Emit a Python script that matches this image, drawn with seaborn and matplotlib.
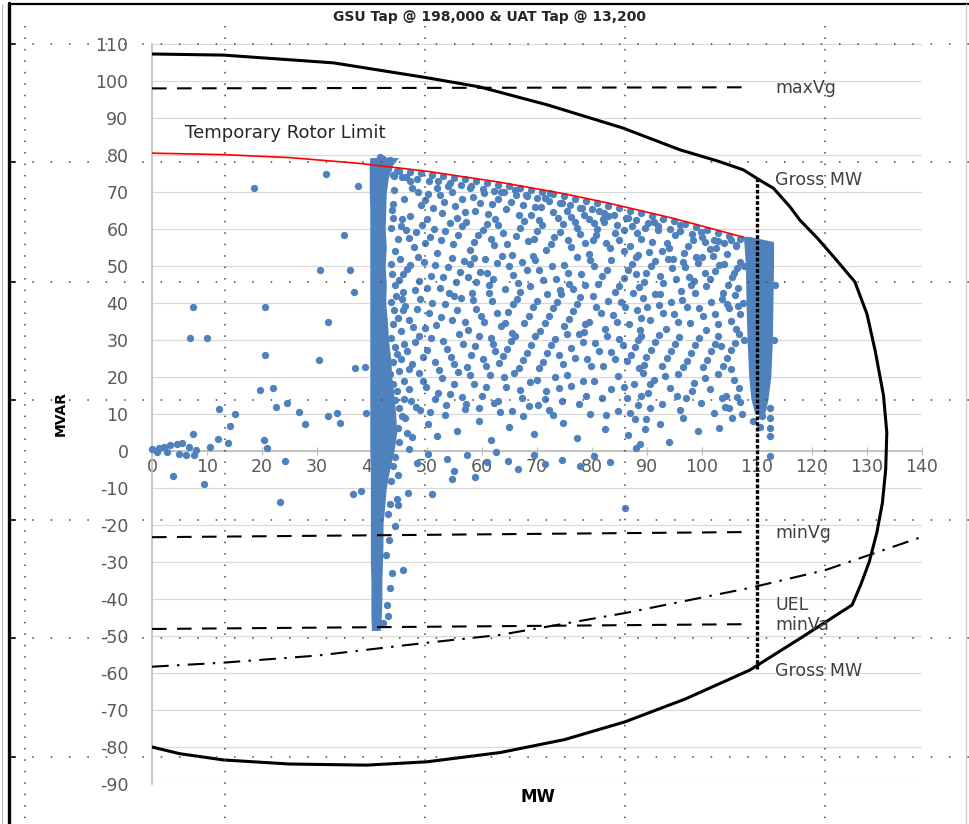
import matplotlib
matplotlib.use("Agg")
import matplotlib.pyplot as plt
import seaborn as sns
import numpy as np
import pandas as pd

# ---------------- data (MW, MVAR) ----------------
x_ticks = [0, 10, 20, 30, 40, 50, 60, 70, 80, 90, 100, 110, 120, 130, 140]
y_ticks = [110, 100, 90, 80, 70, 60, 50, 40, 30, 20, 10, 0, -10, -20, -30, -40, -50, -60, -70, -80, -90]

# generator capability curve
cap_mw = [0, 13, 33, 49.5, 59.6, 72, 85.6, 96, 103, 107.5, 110.5, 113, 116, 117.8, 121, 124.5,
          127.8, 130, 131.5, 133, 133.6, 133.4, 132.8, 131.8, 130.4, 128.9, 127.3, 118, 108.7, 97,
          86, 75, 63.3, 50, 39, 25, 13, 5, 0]
cap_mvar = [107.3, 107, 104.9, 101, 98.4, 93.5, 87.3, 81.4, 78.3, 76, 73.2, 71, 66, 62.4, 57.5, 51.5,
            45.7, 37, 27, 15, 5, -5, -14, -22, -30, -36, -41.6, -50.5, -59.2, -67,
            -73.2, -78, -81.5, -84, -84.9, -84.6, -83.5, -81.8, -80]

# temporary rotor limit (red)
rotor_mw = [0, 13, 25, 38, 50, 63, 75, 83, 95, 107.5]
rotor_mvar = [80.5, 80.1, 79.3, 77.7, 75.6, 72.7, 69.5, 67.0, 62.8, 57.8]

# voltage limits and UEL
maxvg_mw, maxvg_mvar = [0, 108.7], [98.0, 98.3]
minvg_mw, minvg_mvar = [0, 108.7], [-23.3, -21.9]
minva_mw, minva_mvar = [0, 108.7], [-48.1, -46.8]
uel_mw = [0, 13, 30, 49.5, 63.3, 86, 108.7, 122.4, 140]
uel_mvar = [-58.3, -57.2, -55.3, -51.9, -49.7, -43.8, -37.0, -32.2, -23.2]
gross_mw, gross_mvar = [110, 110], [73.8, -58.8]

# densely packed operating points (solid bands of markers)
band40_mvar = [79.3, 77, 74, 70, 65, 60, 55, 50, 45, 40, 35, 30, 25, 20, 15, 10, 5, 0,
               -5, -10, -15, -20, -25, -30, -35, -40, -45, -48.5]
band40_left = [39.6, 39.5, 39.5, 39.5, 39.6, 39.6, 39.6, 39.6, 39.6, 39.6, 39.6, 39.6, 39.6, 39.6,
               39.6, 39.6, 39.6, 39.6, 39.7, 39.7, 39.7, 39.7, 39.7, 39.7, 39.8, 39.8, 39.8, 39.9]
band40_right = [44.8, 43.6, 43.0, 42.6, 42.5, 42.4, 42.6, 42.4, 42.6, 42.5, 42.8, 43.0, 43.4, 43.6,
                44.0, 44.3, 44.5, 44.0, 43.2, 42.6, 42.3, 42.0, 42.0, 41.9, 41.8, 41.8, 41.7, 41.5]
band110_mvar = [58.0, 56.6, 50, 40, 30, 20, 14, 10]
band110_left = [107.4, 107.6, 107.9, 108.0, 108.2, 108.5, 108.9, 109.6]
band110_right = [108.6, 113.0, 113.0, 112.9, 112.8, 112.5, 112.0, 111.4]

# individual operating points
sparse_left = [(0, 0.5), (1.2, 0.8), (2.2, 1.2), (3.3, 1.6), (4.5, 2.0), (5.5, 2.2), (6.8, 1.0),
               (8.0, 0.4), (2.8, -0.4), (5.0, -0.9), (6.2, -1.2), (7.6, -1.0), (1.0, -0.2),
               (3.9, -6.7), (7.5, 4.6), (10.5, 1.0), (9.5, -8.9), (12.2, 11.3), (12.0, 3.2),
               (14.2, 6.8), (15.1, 10.0), (13.9, 2.2), (20.4, 3.0), (20.9, 0.8), (22.0, 17.0),
               (22.5, 11.9), (24.6, 13.0), (24.2, -2.6), (23.3, -13.8), (26.8, 10.5), (27.8, 7.3),
               (32.0, 9.4), (33.6, 10.3), (34.2, 7.6), (36.5, -11.6), (39.0, 10.3), (7.5, 39.0),
               (7.0, 30.5), (10.0, 30.5), (20.5, 39.0), (18.5, 71.0), (20.5, 26.0), (30.5, 49.0),
               (30.3, 24.6), (31.6, 75.0), (32.0, 35.0), (35.0, 58.5), (36.0, 49.0), (36.7, 43.0),
               (37.5, 71.6), (37.0, 22.5), (38.8, 22.8), (38.0, -10.8), (19.6, 16.5)]

edge_top = [(43, 76.2), (45, 75.8), (47, 75.5), (49, 75.1), (51, 74.7), (53, 74.3), (55, 73.9),
            (57, 73.4), (59, 73.0), (61, 72.5), (63, 72.0), (65, 71.5), (67, 71.0), (69, 70.5),
            (71, 69.9), (73, 69.4), (75, 68.8), (77, 68.2), (79, 67.6), (81, 66.9), (83, 66.3),
            (85, 65.6), (87, 65.0), (89, 64.3), (91, 63.6), (93, 62.8), (95, 62.1), (97, 61.4),
            (99, 60.6), (101, 59.8), (103, 59.0), (105, 58.2), (107, 57.4),
            (44, 74.4), (46.2, 74.0), (48.1, 73.6), (50.3, 73.0), (52.0, 72.9), (54.2, 72.3),
            (56.1, 71.8), (58.0, 71.5), (60.2, 70.9), (62.1, 70.3), (64.0, 70.0), (66.2, 69.2),
            (68.1, 68.9), (70.0, 68.4), (72.2, 67.6), (74.1, 67.1), (76.0, 66.6), (78.2, 65.8),
            (80.0, 65.3), (82.1, 64.4), (84.0, 63.9), (86.2, 63.1), (88.0, 62.4), (90.1, 61.6),
            (92.0, 60.9), (94.2, 60.1), (96.0, 59.4), (98.1, 58.6), (100.0, 57.9), (102.2, 57.0),
            (104.0, 56.3), (106.1, 55.3), (41.5, 79.5), (43.2, 78.6), (42.0, 79.0)]

cloud_62_72 = [(44.0, 70.6), (45.8, 68.2), (47.3, 71.0), (48.9, 66.5), (50.2, 69.4), (51.8, 71.2),
               (53.1, 67.3), (54.6, 70.0), (56.3, 68.1), (57.9, 71.0), (58.8, 64.9), (60.4, 69.6),
               (61.9, 66.8), (63.5, 70.1), (65.2, 67.4), (66.8, 63.9), (68.0, 69.2), (69.7, 66.0),
               (71.5, 68.3), (73.0, 64.6), (74.6, 66.9), (76.1, 63.2), (77.9, 65.8), (79.5, 62.7),
               (81.2, 64.9), (83.0, 63.4), (47.0, 63.5), (50.0, 62.6), (52.7, 64.4), (55.4, 63.0),
               (62.4, 62.8), (70.3, 62.4), (43.6, 65.2), (45.4, 62.8), (43.8, 74.5), (44.6, 75.8),
               (45.5, 74.0), (43.9, 66.8), (46.9, 72.9), (48.4, 69.9), (49.7, 67.8), (51.1, 65.6),
               (52.4, 69.1), (53.8, 71.6), (55.1, 66.2), (56.9, 64.6), (58.3, 68.7), (59.6, 66.9),
               (61.1, 64.0), (62.9, 68.2), (64.3, 65.3), (66.0, 70.6), (67.5, 66.6), (69.0, 63.7),
               (70.8, 65.9), (72.4, 69.8), (73.9, 62.9), (75.5, 64.8), (77.0, 61.9), (78.6, 63.9),
               (80.3, 61.5), (82.0, 62.6), (84.5, 61.0), (85.9, 59.6), (88.2, 59.0), (89.7, 60.3)]

cloud_52_62 = [(43.5, 60.4), (44.8, 57.3), (46.2, 59.8), (47.6, 55.1), (49.1, 61.0), (50.5, 57.9),
               (51.9, 53.6), (53.3, 59.4), (54.8, 56.0), (56.4, 60.8), (57.8, 54.2), (59.3, 58.3),
               (60.9, 61.4), (62.2, 55.6), (63.8, 58.9), (65.5, 53.1), (66.9, 60.2), (68.4, 56.7),
               (70.0, 59.5), (71.6, 54.4), (73.1, 57.8), (74.8, 61.3), (76.2, 55.2), (77.8, 58.6),
               (79.4, 53.3), (81.0, 60.0), (82.5, 56.3), (84.1, 58.9), (85.8, 54.0), (87.3, 60.7),
               (88.9, 57.2), (90.4, 53.8), (92.0, 59.6), (93.6, 56.1), (95.1, 58.4), (96.8, 53.5),
               (98.3, 57.0), (99.9, 59.1), (101.4, 54.6), (103.0, 56.8), (104.6, 53.2), (106.2, 55.7),
               (48.3, 52.4), (58.5, 52.1), (69.2, 52.6), (80.1, 56.9), (91.2, 62.0), (86.5, 63.0),
               (96.0, 61.0), (44.2, 54.0), (102.0, 52.8), (94.0, 54.8), (43.9, 63.0), (45.2, 60.9),
               (46.7, 57.6), (48.0, 59.3), (49.6, 56.2), (51.2, 59.9), (52.6, 56.9), (54.1, 61.6),
               (55.7, 58.4), (57.1, 61.9), (58.6, 56.6), (60.1, 59.8), (61.6, 57.4), (63.0, 61.2),
               (64.6, 56.0), (66.2, 58.2), (67.6, 62.1), (69.5, 57.3), (71.0, 61.2), (72.6, 56.0),
               (74.1, 59.2), (75.6, 57.0), (77.3, 60.3), (78.8, 56.1), (80.7, 58.3), (82.2, 61.8),
               (83.3, 54.9), (85.0, 57.1), (86.9, 55.5), (88.4, 53.1), (91.0, 56.4), (92.8, 54.1),
               (94.8, 52.0), (97.5, 55.4), (99.0, 52.5), (100.6, 56.5), (102.6, 55.0), (105.2, 57.1)]

cloud_42_52 = [(43.4, 50.6), (44.9, 46.3), (46.3, 49.1), (47.9, 43.5), (49.4, 51.0), (50.8, 47.2),
               (52.3, 44.1), (53.9, 49.8), (55.2, 45.6), (56.8, 51.4), (58.1, 42.8), (59.7, 48.3),
               (61.2, 45.0), (62.8, 50.7), (64.1, 43.9), (65.7, 47.6), (67.3, 51.2), (68.8, 44.7),
               (70.3, 48.9), (71.9, 42.4), (73.4, 46.5), (74.9, 50.3), (76.5, 43.8), (78.0, 47.9),
               (79.6, 51.6), (81.1, 45.1), (82.7, 49.0), (84.2, 42.9), (85.8, 46.8), (87.3, 50.5),
               (88.6, 44.3), (89.9, 48.2), (91.5, 51.3), (93.0, 45.5), (94.6, 49.4), (96.1, 43.2),
               (97.7, 47.0), (99.2, 50.8), (100.8, 44.6), (102.3, 48.6), (103.9, 42.6), (105.4, 46.9),
               (106.9, 51.0), (45.6, 43.0), (60.5, 51.9), (75.8, 45.2), (92.4, 42.5), (57.4, 46.9),
               (88.0, 47.8), (45.1, 51.8), (43.7, 47.9), (104.0, 50.5), (105.8, 48.2), (106.5, 44.0),
               (100.5, 48.0), (98.0, 44.8), (96.5, 51.2), (44.1, 44.8), (45.7, 47.8), (47.0, 50.3),
               (48.5, 46.0), (50.0, 44.0), (51.5, 50.4), (53.0, 47.1), (54.5, 52.1), (56.0, 48.5),
               (57.9, 50.6), (59.0, 45.6), (60.9, 48.2), (62.0, 46.4), (63.6, 52.6), (65.0, 49.9),
               (66.5, 45.5), (68.1, 49.0), (69.6, 51.7), (71.1, 46.3), (72.8, 50.0), (74.2, 43.6),
               (75.7, 48.1), (77.3, 52.4), (78.8, 45.0), (80.4, 50.0), (81.9, 47.3), (83.4, 51.6),
               (85.0, 44.5), (86.6, 49.0), (88.0, 52.3), (89.4, 45.8), (90.7, 50.0), (92.3, 47.4),
               (93.8, 51.8), (95.3, 46.6), (96.9, 49.6), (98.5, 46.0), (100.0, 52.3), (101.5, 46.5),
               (103.1, 50.3), (104.7, 45.0), (106.3, 49.4)]

cloud_32_42 = [(43.5, 40.2), (44.7, 36.0), (46.0, 39.1), (47.4, 33.4), (48.8, 41.0), (50.3, 37.2),
               (51.7, 34.0), (53.2, 39.7), (54.6, 35.5), (56.1, 41.4), (57.5, 32.7), (59.0, 38.3),
               (60.4, 35.0), (61.9, 40.6), (63.4, 33.8), (64.8, 37.5), (66.3, 41.1), (67.7, 34.6),
               (69.2, 38.8), (70.6, 32.3), (72.1, 36.4), (73.6, 40.3), (75.0, 33.7), (76.5, 37.9),
               (77.9, 41.5), (79.4, 35.0), (80.8, 39.0), (82.3, 32.9), (83.8, 36.8), (85.2, 40.4),
               (86.7, 34.2), (88.1, 38.1), (89.2, 41.3), (90.6, 35.4), (92.1, 39.4), (93.5, 33.1),
               (95.0, 37.0), (96.4, 40.8), (97.9, 34.5), (99.4, 38.6), (100.8, 32.6), (102.3, 36.9),
               (103.7, 41.0), (105.2, 35.2), (106.6, 39.2), (45.2, 32.5), (55.0, 42.0), (65.4, 32.0),
               (78.6, 32.2), (88.7, 32.8), (44.4, 41.8), (45.6, 38.0), (43.9, 34.4), (104.9, 38.6),
               (106.1, 33.0), (44.0, 38.2), (45.5, 41.0), (46.8, 35.3), (48.1, 38.4), (49.6, 33.2),
               (51.0, 40.0), (52.5, 36.2), (54.0, 42.6), (55.4, 38.0), (56.9, 34.8), (58.3, 40.7),
               (59.8, 36.4), (61.2, 42.8), (62.7, 37.2), (64.1, 34.6), (65.6, 39.6), (67.0, 43.0),
               (68.5, 36.4), (70.0, 40.6), (71.4, 34.5), (72.9, 38.6), (74.3, 42.4), (75.8, 35.6),
               (77.2, 39.8), (78.7, 34.4), (80.1, 42.0), (81.6, 37.2), (83.0, 40.6), (84.5, 34.9),
               (86.0, 38.8), (87.5, 42.6), (88.9, 36.0), (90.0, 39.0), (91.4, 42.3), (92.9, 37.2),
               (94.3, 40.4), (95.7, 34.9), (97.2, 38.8), (98.7, 42.8), (100.1, 36.6), (101.6, 40.3),
               (103.0, 34.4), (104.5, 39.8), (106.0, 42.1), (107.0, 37.0)]

cloud_22_32 = [(43.4, 30.5), (44.6, 26.3), (45.9, 29.0), (47.2, 23.6), (48.6, 31.2), (50.0, 27.4),
               (51.5, 24.0), (52.9, 29.8), (54.3, 25.5), (55.8, 31.5), (57.2, 22.8), (58.7, 28.3),
               (60.1, 25.0), (61.6, 30.6), (63.1, 23.7), (64.5, 27.5), (66.0, 31.1), (67.4, 24.5),
               (68.9, 28.7), (70.3, 22.3), (71.8, 26.4), (73.3, 30.2), (74.7, 23.6), (76.2, 27.8),
               (77.6, 31.5), (79.1, 25.0), (80.5, 29.1), (82.0, 22.9), (83.5, 26.8), (84.9, 30.4),
               (86.4, 24.2), (87.8, 28.0), (89.0, 31.2), (89.9, 25.3), (91.4, 29.4), (92.8, 23.1),
               (94.3, 27.1), (95.8, 30.9), (97.2, 24.4), (98.7, 28.6), (100.1, 22.6), (101.6, 26.9),
               (103.0, 31.0), (104.5, 25.1), (106.0, 29.2), (88.5, 22.5), (46.8, 22.1), (62.3, 27.0),
               (44.1, 28.0), (45.3, 24.9), (103.4, 28.5), (105.3, 22.2), (43.8, 24.0), (45.0, 21.5),
               (46.4, 27.0), (47.8, 29.4), (49.3, 25.3), (50.7, 30.6), (52.1, 22.0), (53.6, 27.6),
               (55.0, 23.4), (56.5, 28.9), (58.0, 25.9), (59.4, 31.0), (60.8, 22.9), (62.0, 29.0),
               (63.8, 25.6), (65.3, 29.6), (66.7, 22.4), (68.2, 26.6), (69.6, 31.0), (71.1, 24.1),
               (72.5, 28.6), (74.0, 26.0), (75.5, 31.6), (76.9, 25.1), (78.4, 29.4), (79.8, 23.0),
               (81.3, 27.0), (82.7, 31.2), (84.2, 24.9), (85.6, 28.7), (87.1, 26.0), (88.3, 30.0),
               (89.5, 23.3), (90.8, 27.2), (92.2, 31.3), (93.6, 25.2), (95.1, 28.9), (96.5, 22.6),
               (98.0, 26.6), (99.4, 30.6), (100.9, 24.6), (102.3, 28.8), (103.8, 23.0), (105.2, 27.2),
               (106.7, 31.5)]

cloud_12_22 = [(43.3, 20.8), (44.5, 16.2), (45.8, 19.0), (47.1, 13.4), (48.5, 21.2), (49.9, 17.3),
               (51.4, 14.1), (52.8, 19.7), (54.2, 15.4), (55.7, 21.4), (57.1, 12.7), (58.6, 18.2),
               (60.0, 15.0), (61.5, 20.5), (63.0, 13.6), (64.4, 17.4), (65.9, 21.0), (67.3, 14.4),
               (68.8, 18.6), (70.2, 12.4), (71.7, 16.3), (73.2, 20.1), (74.6, 13.5), (76.1, 17.7),
               (79.0, 15.0), (80.4, 19.0), (83.4, 16.7), (84.8, 20.3), (86.3, 14.2), (87.6, 18.0),
               (88.4, 12.3), (89.3, 21.0), (90.1, 15.6), (91.3, 19.3), (94.2, 17.0), (95.7, 20.8),
               (97.1, 14.3), (98.6, 18.5), (101.5, 16.8), (102.9, 20.9), (104.4, 15.0), (105.9, 19.1),
               (107.0, 13.2), (43.8, 18.0), (44.9, 11.5), (45.9, 14.0), (106.8, 17.0), (104.2, 12.0),
               (44.2, 13.8), (45.4, 9.4), (46.7, 16.8), (48.0, 12.0), (49.2, 19.0), (50.6, 10.6),
               (52.0, 15.6), (53.5, 12.4), (55.0, 18.2), (56.4, 14.7), (57.9, 20.6), (59.5, 11.6),
               (60.8, 17.3), (62.2, 13.0), (64.0, 20.0), (65.4, 10.8), (67.0, 16.6), (68.5, 12.2),
               (70.0, 19.2), (71.5, 14.0), (73.0, 9.6), (74.0, 17.0), (75.5, 20.5), (77.6, 12.6),
               (78.3, 18.8), (81.8, 14.4), (82.6, 9.8), (85.8, 17.3), (86.9, 10.4), (88.9, 15.0),
               (89.8, 8.6), (90.6, 18.2), (92.7, 12.8), (93.3, 20.2), (95.4, 14.8), (96.0, 11.0),
               (98.2, 16.2), (99.8, 12.9), (100.6, 19.8), (103.6, 14.3), (105.0, 11.5), (106.3, 14.6)]

cloud_2_12 = [(43.5, 10.6), (44.7, 6.2), (46.0, 9.0), (47.3, 3.8), (48.7, 11.2), (50.2, 7.3),
              (51.8, 4.1), (53.3, 9.7), (55.5, 5.4), (57.0, 11.4), (59.4, 8.2), (61.6, 3.0),
              (63.2, 10.5), (65.0, 6.6), (67.4, 9.4), (69.5, 4.5), (72.1, 11.0), (74.8, 7.7),
              (77.2, 3.6), (79.6, 9.9), (82.3, 6.0), (84.7, 10.8), (86.5, 4.2), (87.9, 8.6),
              (88.8, 2.0), (89.6, 5.9), (90.5, 11.6), (92.4, 7.4), (94.0, 2.4), (96.6, 9.0),
              (99.3, 5.3), (102.2, 10.2), (103.1, 6.2), (105.5, 8.8), (88.0, 0.8), (46.3, 4.8),
              (45.0, 2.5), (107.2, 10.0)]

below_axis = [(44.2, -1.5), (46.8, 0.5), (48.1, -3.2), (50.2, -0.8), (53.6, -2.1), (55.0, -5.5),
              (57.3, -1.2), (58.7, -7.0), (60.9, -3.0), (62.5, -0.2), (64.8, -2.6), (66.6, -4.8),
              (69.4, -1.0), (71.5, -3.4), (74.6, -2.3), (77.9, -4.0), (80.3, -1.4), (83.2, -3.1),
              (86.0, -15.5), (46.5, -11.4), (51.0, -11.7), (54.5, -7.6), (44.5, -13.0), (43.3, -14.3),
              (44.7, -14.6), (44.2, -20.3), (45.7, -32.2), (43.6, -33.0), (43.3, -37.0), (42.7, -41.6),
              (42.0, -46.5), (43.9, -4.0), (44.8, -6.5), (43.5, -8.0), (42.9, -17.0), (43.1, -24.0),
              (42.6, -28.0), (43.0, -44.5)]

right_band_pts = [(112.4, 11.5), (112.3, 8.8), (112.4, 6.2), (112.3, 4.0), (112.4, -1.4),
                  (111.0, 9.5), (110.6, 6.5), (109.2, 8.0), (107.6, 50.0), (107.5, 40.0),
                  (107.7, 30.0), (113.2, 45.0), (113.1, 30.0)]

# ---------------- drawing ----------------
sns.set_theme(style="white")
plt.rcParams['font.family'] = ['DejaVu Sans']
plt.rcParams['axes.unicode_minus'] = False

blue = '#4F81BD'
label_col = '#404040'
tick_col = '#595959'

fig = plt.figure(figsize=(9.7, 8.24), dpi=100)
W, H = 970, 824
ax = fig.add_axes([152 / W, 1 - 784 / H, (922 - 152) / W, (784 - 44) / H])

pts = pd.DataFrame(sparse_left + edge_top + cloud_62_72 + cloud_52_62 + cloud_42_52 + cloud_32_42
                   + cloud_22_32 + cloud_12_22 + cloud_2_12 + below_axis + right_band_pts,
                   columns=['MW', 'MVAR'])

ax.fill_betweenx(band40_mvar, band40_left, band40_right, color=blue, lw=0, zorder=3)
ax.fill_betweenx(band110_mvar, band110_left, band110_right, color=blue, lw=0, zorder=3)
sns.scatterplot(data=pts, x='MW', y='MVAR', ax=ax, s=28, color=blue, linewidth=0,
                zorder=3, clip_on=False)

sns.lineplot(x=cap_mw, y=cap_mvar, sort=False, estimator=None, color='black', lw=2.2, ax=ax, zorder=4)
sns.lineplot(x=rotor_mw, y=rotor_mvar, sort=False, estimator=None, color='#FF0000', lw=1.2, ax=ax, zorder=4)
for xs, ys in [(maxvg_mw, maxvg_mvar), (minvg_mw, minvg_mvar), (minva_mw, minva_mvar)]:
    ax.plot(xs, ys, color='black', lw=1.5, ls=(0, (7, 5)), zorder=4)
ax.plot(uel_mw, uel_mvar, color='black', lw=1.5, ls=(0, (8, 4, 1.2, 4)), zorder=4)
ax.plot(gross_mw, gross_mvar, color='black', lw=2.4, ls=(0, (1.1, 0.6)), zorder=4)

ax.set_xlim(0, 140)
ax.set_ylim(-90, 110)
ax.set_xticks(x_ticks)
ax.set_yticks(y_ticks)
ax.set_xticklabels([str(v) for v in x_ticks])
ax.set_yticklabels([str(v) for v in y_ticks])
ax.set_xlabel('')
ax.set_ylabel('')
ax.set_axisbelow(True)
ax.grid(axis='y', color='#D9D9D9', lw=0.9)
ax.grid(axis='x', visible=False)
ax.set_facecolor('none')

for s in ['top', 'right']:
    ax.spines[s].set_visible(False)
ax.spines['bottom'].set_position(('data', 0))
ax.spines['bottom'].set_color('#BFBFBF')
ax.spines['left'].set_color('#BFBFBF')
for s in ax.spines.values():
    s.set_zorder(0.6)
ax.tick_params(axis='x', direction='inout', length=6, width=0.9, color='#BFBFBF',
               labelsize=12.5, labelcolor=tick_col, pad=2, bottom=True)
ax.tick_params(axis='y', length=0, labelsize=12.5, labelcolor=tick_col, pad=17, left=True)

# annotations
ax.text(6, 86, 'Temporary Rotor Limit', fontsize=13, color='#262626', ha='left', va='center', zorder=5)
for txt, yv in [('maxVg', 98.1), ('Gross MW', 73.2), ('minVg', -22.2), ('UEL', -41.6),
                ('minVa', -47.0), ('Gross MW', -59.5)]:
    ax.text(113.3, yv, txt, fontsize=12.5, color=label_col, ha='left', va='center', zorder=5,
            clip_on=False)

fig.text(490 / W, 1 - 17 / H, 'GSU Tap @ 198,000 & UAT Tap @ 13,200', fontsize=10,
         weight='bold', color='#262626', ha='center', va='center')
fig.text(61 / W, 1 - 413 / H, 'MVAR', fontsize=10, weight='bold', rotation=90,
         ha='center', va='center', color='black')
fig.text(538 / W, 1 - 797 / H, 'MW', fontsize=12, weight='bold', ha='center', va='center',
         color='black')

# page-layout overlay (cell grid dots and frame), in pixel coordinates
ov = fig.add_axes([0, 0, 1, 1], zorder=10)
ov.set_xlim(0, W)
ov.set_ylim(H, 0)
ov.axis('off')
ov.patch.set_alpha(0)
for yy in [44, 162, 282, 400, 520, 638, 757]:
    ov.plot([14, W], [yy, yy], color='#444444', lw=1.1, ls=(0, (1, 11)))
    ov.plot([9, 15], [yy, yy], color='black', lw=1.2)
for xx in [25, 225, 425, 625, 825]:
    ov.plot([xx, xx], [26, H], color='#444444', lw=1.1, ls=(0, (1, 6.5)))
ov.plot([2, 2], [4, H], color='#BBBBBB', lw=0.8)
ov.plot([9.5, 9.5], [3, H], color='black', lw=2.4)
ov.plot([9, W], [4, 4], color='black', lw=1.6)
ov.plot([966, 966], [4, H], color='#CCCCCC', lw=1.0)

fig.savefig('out.png', dpi=100, facecolor='white')
